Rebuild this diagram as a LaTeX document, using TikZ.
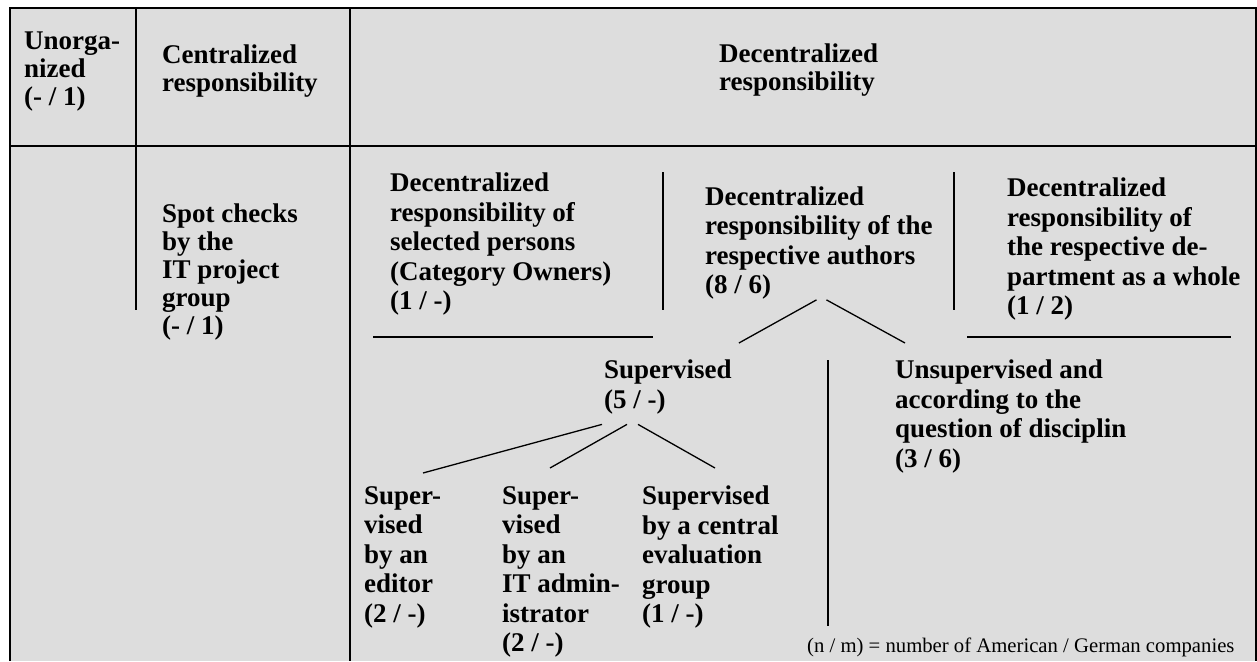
\documentclass[tikz,border=0pt]{standalone}
\usepackage{fontspec}
\setmainfont{Liberation Serif}
\begin{document}
\begin{tikzpicture}[x=1pt,y=-1pt]
\definecolor{panelcolor}{RGB}{221,221,221}
\tikzstyle{frame}=[line width=2pt]
\tikzstyle{divider}=[line width=1.6pt]
\tikzstyle{branch}=[line width=1.3pt]
\tikzstyle{celltext}=[anchor=north west,inner sep=0pt,align=left,font=\fontsize{27}{29.5}\selectfont\bfseries]
\tikzstyle{headtext}=[celltext,font=\fontsize{27}{28}\selectfont\bfseries]
\tikzstyle{note}=[anchor=base west,inner sep=0pt,font=\fontsize{20.7}{24}\selectfont]
\useasboundingbox (0,0) rectangle (1257,661);
\fill[panelcolor] (10,8) rectangle (1256,661);
\draw[frame] (10,661) -- (10,8) -- (1256,8) -- (1256,661);
% table head
\node[headtext] (unorg) at (24,32) {Unorga-\\nized\\(- / 1)};
\node[headtext] (central) at (162,44.5) {Centralized\\responsibility};
\node[headtext] (decentral) at (719,43.5) {Decentralized\\responsibility};
\draw[divider] (10,146) -- (1256,146);
\draw[divider] (136,8) -- (136,310);
\draw[divider] (350,8) -- (350,661);
% body
\node[headtext] (spot) at (162,203.5) {Spot checks\\by the\\IT project\\group\\(- / 1)};
\node[celltext] (owners) at (390,173) {Decentralized\\responsibility of\\selected persons\\(Category Owners)\\(1 / -)};
\node[celltext] (authors) at (705,186.5) {Decentralized\\responsibility of the\\respective authors\\(8 / 6)};
\node[celltext] (dept) at (1007,178) {Decentralized\\responsibility of\\the respective de-\\partment as a whole\\(1 / 2)};
\node[celltext] (sup) at (604,360) {Supervised\\(5 / -)};
\node[celltext] (unsup) at (895,360) {Unsupervised and\\according to the\\question of disciplin\\(3 / 6)};
\node[celltext] (editor) at (364,486) {Super-\\vised\\by an\\editor\\(2 / -)};
\node[celltext] (admin) at (502,486) {Super-\\vised\\by an\\IT admin-\\istrator\\(2 / -)};
\node[celltext] (evalgroup) at (642,486) {Supervised\\by a central\\evaluation\\group\\(1 / -)};
\node[note] (legend) at (807,652) {(n / m) = number of American / German companies};
\draw[divider] (663,172) -- (663,310);
\draw[divider] (954,172) -- (954,310);
\draw[divider] (373,337) -- (653,337);
\draw[divider] (967,337) -- (1231,337);
\draw[divider] (828,360) -- (828,626);
% tree
\draw[branch] ([xshift=-2.5pt]authors.south) -- ([shift={(7pt,17pt)}]sup.north east);
\draw[branch] ([xshift=7.5pt]authors.south) -- ([shift={(10pt,17pt)}]unsup.north west);
\draw[branch] ([shift={(-2pt,-10pt)}]sup.south west) -- ([shift={(59pt,13pt)}]editor.north west);
\draw[branch] ([shift={(23pt,-10pt)}]sup.south west) -- ([shift={(48pt,18pt)}]admin.north west);
\draw[branch] ([shift={(34pt,-10pt)}]sup.south west) -- ([shift={(73pt,18pt)}]evalgroup.north west);
\end{tikzpicture}
\end{document}
